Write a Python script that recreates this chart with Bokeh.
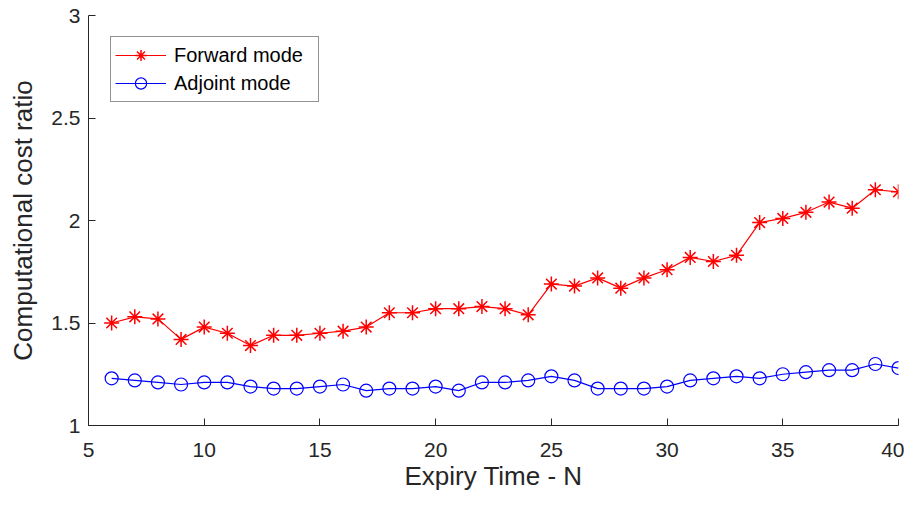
from bokeh.plotting import figure
from bokeh.models import Range1d, FixedTicker, Legend, LegendItem
from bokeh.embed import file_html
from bokeh.resources import INLINE

# data
expiry = list(range(6, 41))
forward = [1.50, 1.53, 1.52, 1.42, 1.48, 1.45, 1.39, 1.44, 1.44, 1.45, 1.46, 1.48,
           1.55, 1.55, 1.57, 1.57, 1.58, 1.57, 1.54, 1.69, 1.68, 1.72, 1.67, 1.72,
           1.76, 1.82, 1.80, 1.83, 1.99, 2.01, 2.04, 2.09, 2.06, 2.15, 2.14]
adjoint = [1.23, 1.22, 1.21, 1.20, 1.21, 1.21, 1.19, 1.18, 1.18, 1.19, 1.20, 1.17,
           1.18, 1.18, 1.19, 1.17, 1.21, 1.21, 1.22, 1.24, 1.22, 1.18, 1.18, 1.18,
           1.19, 1.22, 1.23, 1.24, 1.23, 1.25, 1.26, 1.27, 1.27, 1.30, 1.28]
x_ticks = [5, 10, 15, 20, 25, 30, 35, 40]
y_ticks = [1, 1.5, 2, 2.5, 3]
y_tick_labels = ["1", "1.5", "2", "2.5", "3"]

AX = "#262626"
FONT = "Liberation Sans"

p = figure(width=904, height=497, output_backend="svg", toolbar_location=None,
           x_range=Range1d(5, 40), y_range=Range1d(1, 3),
           min_border_left=88, min_border_right=6, min_border_top=15, min_border_bottom=72)
p.outline_line_color = None
p.xgrid.visible = False
p.ygrid.visible = False
p.background_fill_color = "white"
p.border_fill_color = "white"

for ax in (p.xaxis[0], p.yaxis[0]):
    ax.axis_line_color = AX
    ax.axis_line_width = 1
    ax.major_tick_line_color = AX
    ax.major_tick_in = 7
    ax.major_tick_out = 0
    ax.minor_tick_line_color = None
    ax.major_label_text_font = FONT
    ax.major_label_text_font_size = "21px"
    ax.major_label_text_color = AX
    ax.axis_label_text_font = FONT
    ax.axis_label_text_font_size = "26px"
    ax.axis_label_text_font_style = "normal"
    ax.axis_label_text_color = AX

p.xaxis.ticker = FixedTicker(ticks=x_ticks)
p.yaxis.ticker = FixedTicker(ticks=y_ticks)
p.yaxis.major_label_overrides = {t: l for t, l in zip(y_ticks, y_tick_labels)}
p.xaxis.axis_label = "Expiry Time - N"
p.yaxis.axis_label = "Computational cost ratio"
p.xaxis.major_label_standoff = 17
p.yaxis.major_label_standoff = 8
p.xaxis.axis_label_standoff = 1
p.yaxis.axis_label_standoff = 10

l1 = p.line(expiry, forward, line_color="#ff0000", line_width=1.2)
s1 = p.scatter(expiry, forward, marker="asterisk", size=15, line_color="#ff0000", line_width=1.5)
l2 = p.line(expiry, adjoint, line_color="#0000ff", line_width=1.2)
s2 = p.scatter(expiry, adjoint, marker="circle", size=13, line_color="#0000ff",
               fill_color=None, line_width=1.2)

legend = Legend(items=[LegendItem(label="Forward mode", renderers=[l1, s1]),
                       LegendItem(label="Adjoint mode", renderers=[l2, s2])],
                location=(22, 0))
legend.label_text_font = FONT
legend.label_text_font_size = "20px"
legend.label_text_color = "black"
legend.border_line_color = "#262626"
legend.border_line_width = 1
legend.background_fill_color = "white"
legend.background_fill_alpha = 1
legend.glyph_width = 51
legend.glyph_height = 28
legend.label_height = 28
legend.label_width = 140
legend.label_standoff = 8
legend.padding = 4
legend.spacing = 0
legend.margin = 0
p.add_layout(legend)

# place legend 23px below the frame top
frame_h = 497 - 15 - 72
legend.location = (22, frame_h - 23 - 64)

open("out.html", "w").write(file_html(p, INLINE))
